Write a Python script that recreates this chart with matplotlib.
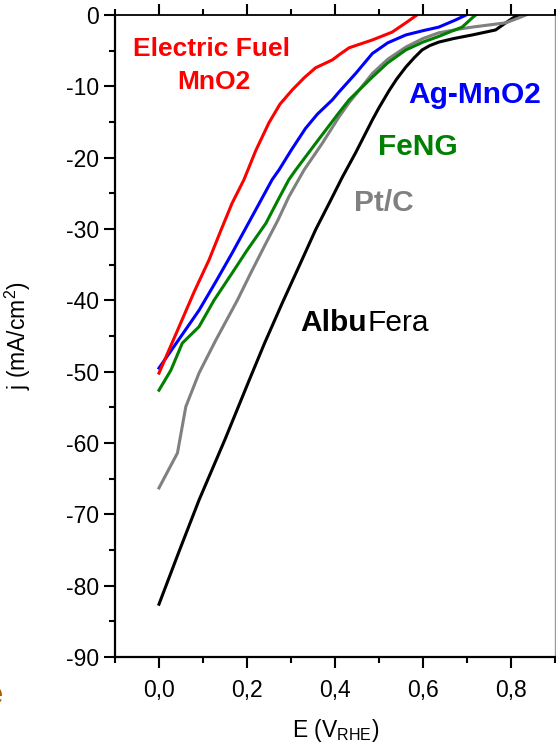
import numpy as np
import matplotlib
matplotlib.use("Agg")
import matplotlib.pyplot as plt
from matplotlib.ticker import MultipleLocator, FuncFormatter

plt.rcParams['font.family'] = ['Liberation Sans', 'DejaVu Sans']
plt.rcParams['mathtext.fontset'] = 'custom'
plt.rcParams['mathtext.rm'] = 'Liberation Sans'
plt.rcParams['mathtext.it'] = 'Liberation Sans:italic'

# curves (E in V_RHE, j in mA/cm2)
e_albufera = [0.0, 0.045, 0.091, 0.15, 0.205, 0.24, 0.28, 0.32, 0.356, 0.39, 0.417,
              0.447, 0.485, 0.50, 0.523, 0.54, 0.561, 0.58, 0.598, 0.615, 0.636,
              0.67, 0.712, 0.765, 0.788, 0.81, 0.82]
j_albufera = [-82.6, -75.3, -68.0, -59.5, -51.2, -46.0, -40.4, -35.0, -30.1, -26.0, -22.7,
              -19.3, -14.7, -13.0, -10.6, -9.0, -7.3, -6.0, -4.9, -4.3, -3.8,
              -3.3, -2.8, -2.1, -1.1, -0.2, 0.0]

e_ptc = [0.0, 0.042, 0.061, 0.091, 0.129, 0.178, 0.21, 0.243, 0.27, 0.295, 0.33, 0.371,
         0.409, 0.432, 0.485, 0.52, 0.561, 0.60, 0.636, 0.68, 0.712, 0.75, 0.788, 0.818, 0.834]
j_ptc = [-66.3, -61.4, -54.9, -50.2, -45.6, -40.0, -36.0, -32.0, -28.8, -25.5, -21.7, -18.0,
         -14.3, -12.3, -8.2, -6.2, -4.5, -3.3, -2.5, -2.0, -1.7, -1.4, -1.1, -0.4, 0.0]

e_feng = [0.0, 0.027, 0.053, 0.091, 0.125, 0.166, 0.20, 0.243, 0.27, 0.295, 0.311, 0.356,
          0.409, 0.432, 0.485, 0.52, 0.561, 0.60, 0.636, 0.66, 0.689, 0.712, 0.72]
j_feng = [-52.6, -49.8, -46.0, -43.7, -40.0, -36.2, -33.0, -29.2, -26.0, -23.1, -21.7, -18.0,
          -13.7, -11.9, -8.7, -6.7, -4.9, -3.8, -3.0, -2.4, -1.7, -0.4, 0.0]

e_agmno2 = [0.0, 0.045, 0.091, 0.13, 0.166, 0.22, 0.257, 0.273, 0.30, 0.333, 0.36, 0.394,
            0.409, 0.447, 0.485, 0.52, 0.561, 0.60, 0.636, 0.674, 0.698]
j_agmno2 = [-49.5, -45.5, -41.4, -37.3, -33.4, -27.3, -23.1, -21.7, -19.0, -15.9, -13.9, -11.9,
            -10.8, -8.2, -5.4, -3.9, -2.8, -2.2, -1.7, -0.7, 0.0]

e_elfuel = [0.0, 0.052, 0.08, 0.114, 0.14, 0.166, 0.193, 0.22, 0.25, 0.275, 0.303, 0.33,
            0.356, 0.394, 0.409, 0.432, 0.485, 0.53, 0.561, 0.584]
j_elfuel = [-50.2, -42.8, -38.8, -34.3, -30.3, -26.4, -23.1, -19.0, -15.1, -12.5, -10.5, -8.8,
            -7.4, -6.3, -5.6, -4.6, -3.5, -2.4, -1.1, -0.1]

fig = plt.figure(figsize=(5.56, 7.45), dpi=100)
ax = fig.add_axes([0.2068, 0.1181, 0.7914, 0.8618])

lw = 2.2
ax.plot(e_albufera, j_albufera, color='black', lw=lw)
ax.plot(e_ptc, j_ptc, color='#808080', lw=lw)
ax.plot(e_feng, j_feng, color='#008000', lw=lw)
ax.plot(e_agmno2, j_agmno2, color='#0000ff', lw=lw)
ax.plot(e_elfuel, j_elfuel, color='#ff0000', lw=lw)

ax.set_xlim(-0.1, 0.9)
ax.set_ylim(-90, 0)

ax.xaxis.set_major_locator(MultipleLocator(0.2))
ax.xaxis.set_minor_locator(MultipleLocator(0.1))
ax.yaxis.set_major_locator(MultipleLocator(10))
ax.yaxis.set_minor_locator(MultipleLocator(5))
ax.xaxis.set_major_formatter(FuncFormatter(lambda v, p: ('%.1f' % v).replace('.', ',').replace('-0,0', '0,0')))
ax.yaxis.set_major_formatter(FuncFormatter(lambda v, p: '%d' % round(v)))

ax.tick_params(which='major', direction='out', length=8, width=1.5, labelsize=16.5)
ax.tick_params(which='minor', direction='out', length=4, width=1.5)
ax.tick_params(axis='x', which='both', top=True)
ax.tick_params(axis='x', which='major', pad=8)

for s in ['left', 'bottom']:
    ax.spines[s].set_linewidth(1.6)
ax.spines['top'].set_linewidth(1.3)
ax.spines['right'].set_linewidth(1.0)
ax.spines['right'].set_color('#999999')

ax.set_xlabel('E (V$_{\\mathrm{RHE}}$)', fontsize=16.5)
ax.set_ylabel('j (mA/cm$^{2}$)', fontsize=16.5)
ax.xaxis.set_label_coords(0.502, -0.093)
ax.yaxis.set_label_coords(-0.186, 0.5)

ax.text(0.12, -4.8, 'Electric Fuel', color='#ff0000', fontsize=19, fontweight='bold',
        ha='center', va='center')
ax.text(0.125, -9.4, 'MnO2', color='#ff0000', fontsize=19, fontweight='bold',
        ha='center', va='center')
ax.text(0.718, -11.2, 'Ag-MnO2', color='#0000ff', fontsize=21.5, fontweight='bold',
        ha='center', va='center')
ax.text(0.589, -18.5, 'FeNG', color='#008000', fontsize=21.5, fontweight='bold',
        ha='center', va='center')
ax.text(0.511, -26.4, 'Pt/C', color='#808080', fontsize=21.5, fontweight='bold',
        ha='center', va='center')
ax.text(0.473, -43.2, 'Albu', color='black', fontsize=21.5, fontweight='bold',
        ha='right', va='center')
ax.text(0.473, -43.2, 'Fera', color='black', fontsize=21.5,
        ha='left', va='center')

# cut-off letter at the lower left edge
fig.text(-0.026, 0.066, 'e', color='#b35a00', fontsize=22, fontweight='bold',
         ha='left', va='center')

fig.savefig('out.png', dpi=100)
